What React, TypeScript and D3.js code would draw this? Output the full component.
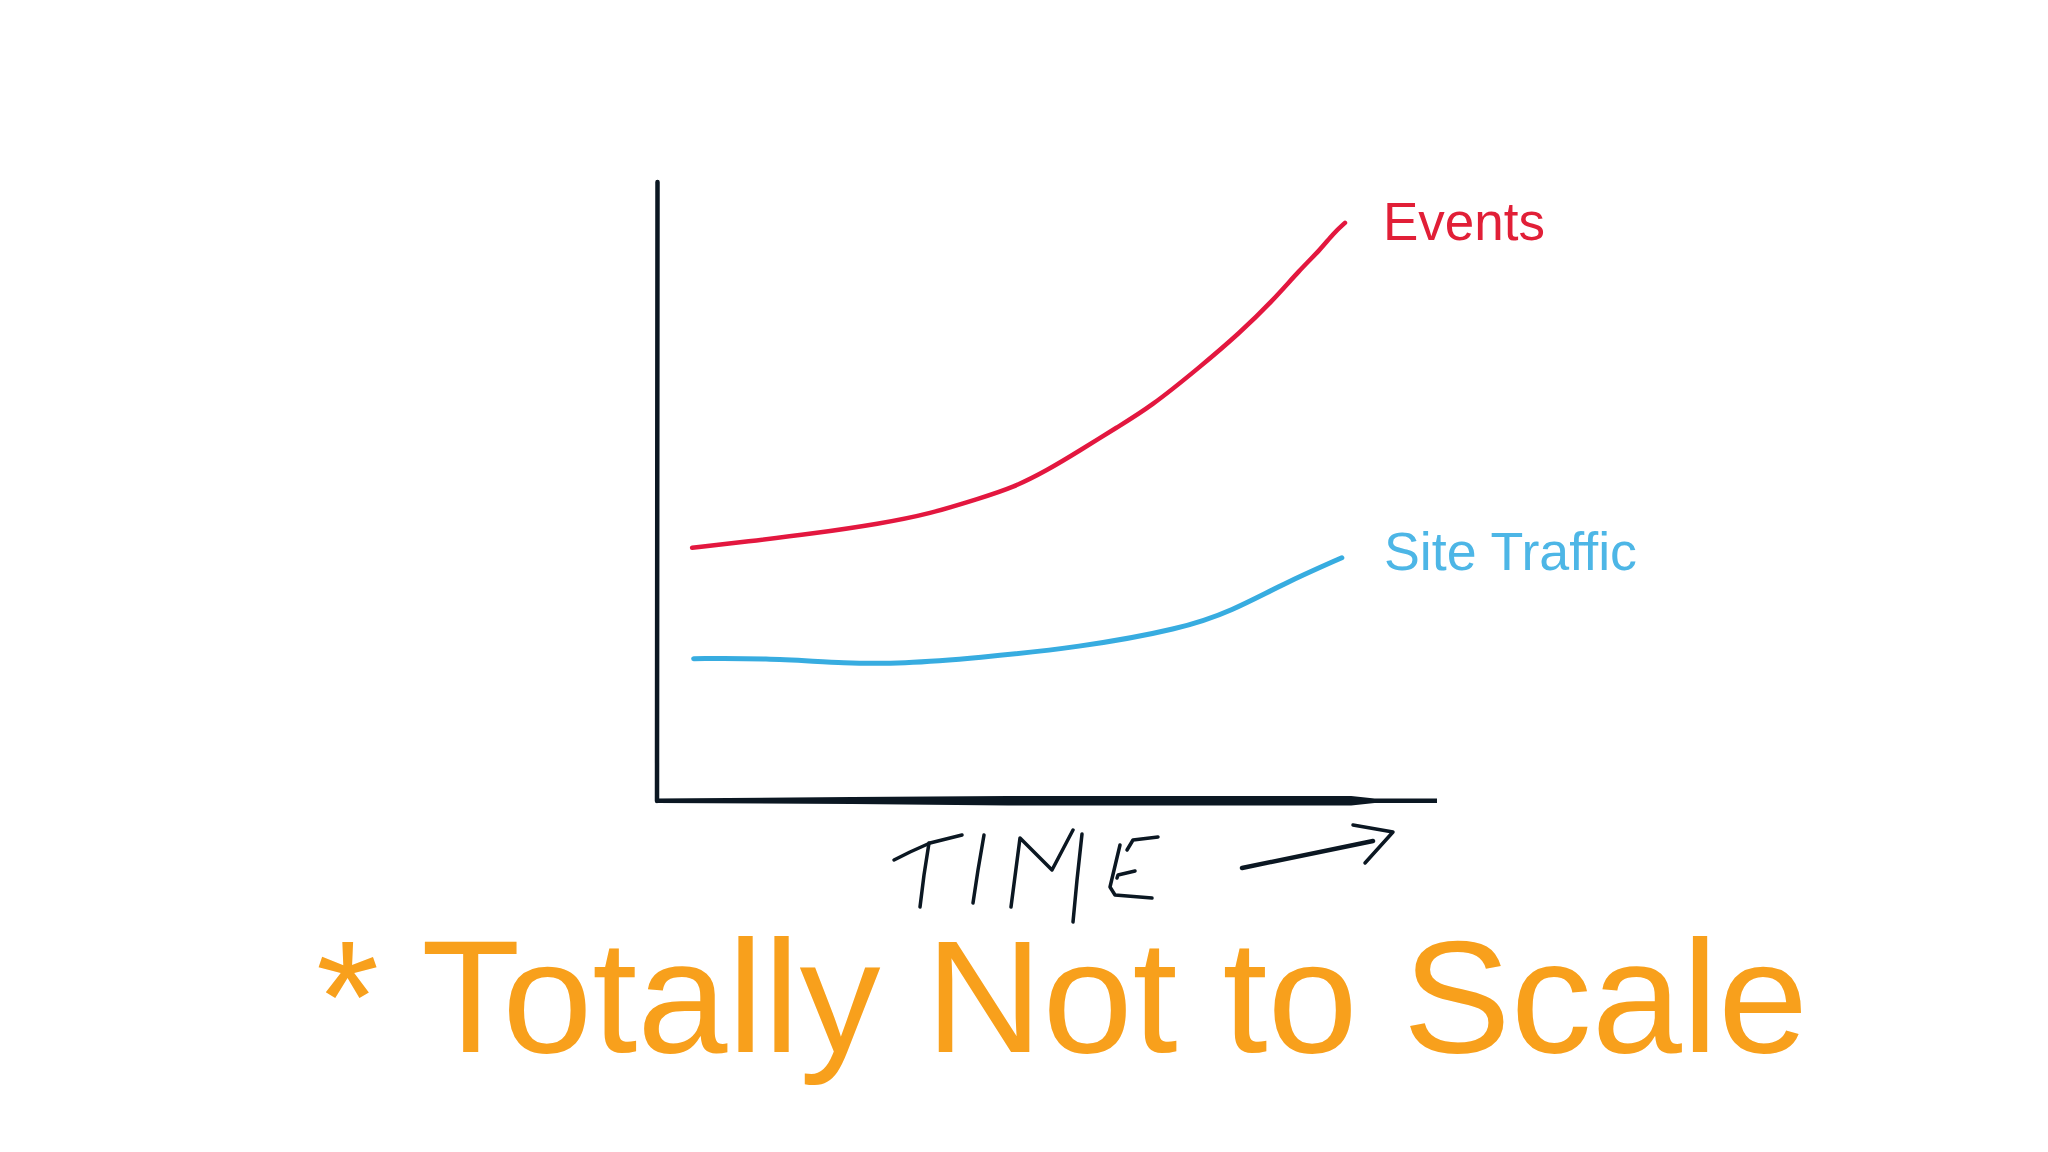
import React, { useRef, useEffect } from 'react'
import * as d3 from 'd3'

// time index (0..100 along the x axis) and a made-up "amount" (0..100)
const eventsTime = [4.5, 11.5, 20.0, 28.6, 35.0, 41.4, 45.6, 50.0, 54.2, 59.0, 63.2, 69.6, 74.7, 79.0, 82.4, 85.0, 86.7, 88.2]
const eventsValue = [40.9, 41.9, 43.2, 44.8, 46.4, 48.9, 50.6, 53.4, 56.6, 60.4, 63.6, 70.1, 75.6, 80.9, 85.8, 89.0, 91.7, 93.4]

const trafficTime = [4.7, 13.6, 24.7, 31.3, 41.0, 54.1, 67.2, 73.7, 80.3, 87.8]
const trafficValue = [23.0, 23.1, 22.2, 22.2, 23.1, 24.8, 27.8, 30.7, 35.1, 39.3]

const seriesLabels = ['Events', 'Site Traffic']
const footnote = '* Totally Not to Scale'

// hand-lettered "TIME →" strokes, in page pixels
const timeStrokes: [number, number][][] = [
  [[894, 860], [910, 852], [930, 843], [962, 835]],
  [[929, 843], [924, 875], [920, 907]],
  [[984, 835], [978, 870], [973, 903]],
  [[1011, 907], [1020, 838], [1052, 870], [1073, 830]],
  [[1082, 834], [1077, 880], [1073, 922]],
  [[1158, 837], [1133, 840], [1127, 850]],
  [[1120, 845], [1110, 887], [1115, 895], [1152, 898]],
  [[1135, 871], [1118, 875], [1117, 878]],
  [[1242, 868], [1373, 841]],
  [[1353, 825], [1393, 832], [1365, 863]],
]

export default function App() {
  const svgRef = useRef<SVGSVGElement>(null)

  useEffect(() => {
    if (!svgRef.current) return
    const svg = d3.select(svgRef.current)
    svg.selectAll('*').remove()

    const x = d3.scaleLinear().domain([0, 100]).range([657, 1437])
    const y = d3.scaleLinear().domain([0, 100]).range([801, 182])

    const ink = '#0b1722'

    // y axis
    svg.append('line')
      .attr('x1', x(0) + 0.5).attr('y1', y(100))
      .attr('x2', x(0)).attr('y2', y(0))
      .attr('stroke', ink).attr('stroke-width', 4.5).attr('stroke-linecap', 'round')

    // x axis: a marker stroke, thicker in the middle, thin at the tip
    const y0 = y(0)
    const axisPoly: [number, number][] = [
      [x(0), y0 - 2.5], [x(25), y0 - 4], [x(45), y0 - 5], [x(89), y0 - 5], [x(92), y0 - 2.5], [x(100), y0 - 2.5],
      [x(100), y0 + 2], [x(92), y0 + 2], [x(89), y0 + 4.5], [x(45), y0 + 4.5], [x(25), y0 + 3], [x(0), y0 + 2],
    ]
    svg.append('path')
      .attr('d', 'M' + axisPoly.map(p => p.join(',')).join('L') + 'Z')
      .attr('fill', ink)

    const line = d3.line<[number, number]>()
      .x(d => x(d[0]))
      .y(d => y(d[1]))
      .curve(d3.curveBasis)

    const events = eventsTime.map((t, i) => [t, eventsValue[i]] as [number, number])
    const traffic = trafficTime.map((t, i) => [t, trafficValue[i]] as [number, number])

    svg.append('path')
      .datum(events)
      .attr('d', line)
      .attr('fill', 'none')
      .attr('stroke', '#e3173f')
      .attr('stroke-width', 4.5)
      .attr('stroke-linecap', 'round')

    svg.append('path')
      .datum(traffic)
      .attr('d', line)
      .attr('fill', 'none')
      .attr('stroke', '#37ace0')
      .attr('stroke-width', 5)
      .attr('stroke-linecap', 'round')

    const font = '"Liberation Sans", Arial, sans-serif'

    svg.append('text')
      .attr('x', 1383).attr('y', 240)
      .attr('font-family', font).attr('font-size', 53)
      .attr('fill', '#e11f37')
      .text(seriesLabels[0])

    svg.append('text')
      .attr('x', 1384).attr('y', 570)
      .attr('font-family', font).attr('font-size', 53)
      .attr('textLength', 253)
      .attr('lengthAdjust', 'spacingAndGlyphs')
      .attr('fill', '#4db6e6')
      .text(seriesLabels[1])

    // hand-lettered axis title
    const pen = d3.line<[number, number]>().curve(d3.curveLinear)
    svg.append('g')
      .selectAll('path')
      .data(timeStrokes)
      .join('path')
      .attr('d', d => pen(d))
      .attr('fill', 'none')
      .attr('stroke', ink)
      .attr('stroke-width', (d, i) => (i === timeStrokes.length - 2 ? 4.5 : 3.5))
      .attr('stroke-linecap', 'round')
      .attr('stroke-linejoin', 'round')

    svg.append('text')
      .attr('x', 316).attr('y', 1052)
      .attr('font-family', font).attr('font-size', 160)
      .attr('textLength', 1492)
      .attr('lengthAdjust', 'spacingAndGlyphs')
      .attr('fill', '#f8a01c')
      .text(footnote)
  }, [])

  return (
    <svg
      ref={svgRef}
      width={2048}
      height={1152}
      style={{ position: 'absolute', left: 0, top: 0, background: '#fff' }}
    />
  )
}
